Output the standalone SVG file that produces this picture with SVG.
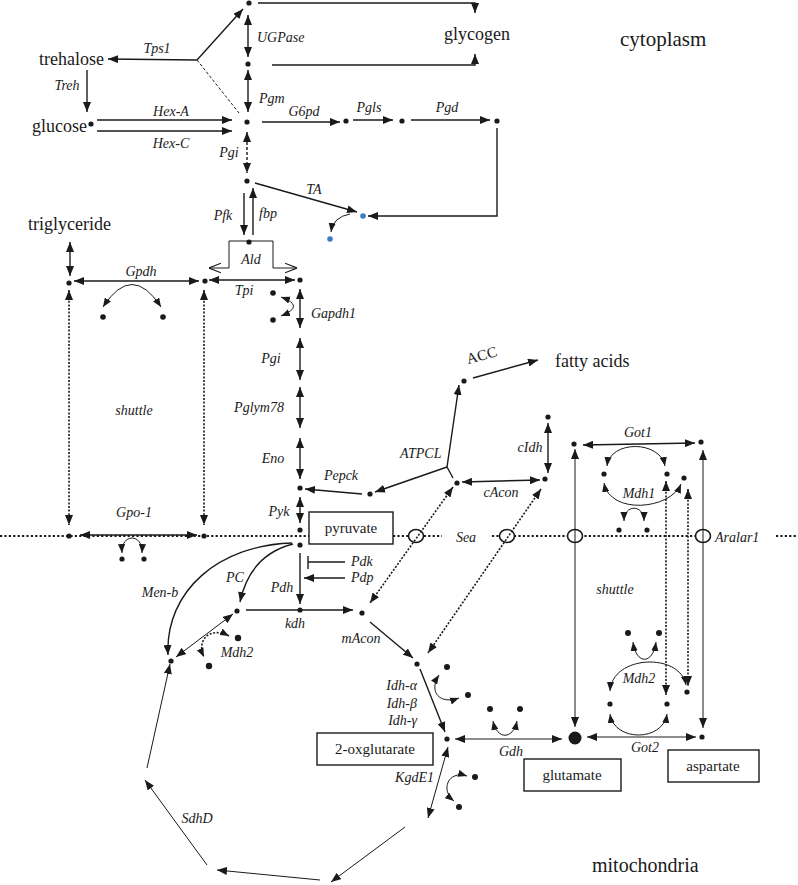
<svg xmlns="http://www.w3.org/2000/svg" width="798" height="885" viewBox="0 0 798 885" font-family="'Liberation Serif', 'DejaVu Serif', serif">
<style>
text{font-family:'Liberation Serif','DejaVu Serif',serif;fill:#1a1a1a}
.m{font-size:18px}
.big{font-size:20px}
.e{font-size:14px;font-style:italic}
.bx{font-size:15px;text-anchor:middle}
.c{text-anchor:middle}
.r{text-anchor:end}
.l{fill:none;stroke:#1a1a1a;stroke-width:1.4}
.t{fill:none;stroke:#1a1a1a;stroke-width:1}
.dsh{stroke-dasharray:3 2}
.dot{stroke-dasharray:2 1.6;stroke-width:1.6}
.mem{fill:none;stroke:#1a1a1a;stroke-width:2.2;stroke-dasharray:2.2 2.2}
.box{fill:#fff;stroke:#1a1a1a;stroke-width:1.4}
.ov{fill:#fff;stroke:#1a1a1a;stroke-width:1.6}
.d{fill:#1a1a1a}
.b{fill:#3f7cc4}
</style>
<defs>
<marker id="a" viewBox="0 0 10 8" refX="10" refY="4" markerWidth="10" markerHeight="8" markerUnits="userSpaceOnUse" orient="auto-start-reverse"><path d="M0,0 L10,4 L0,8 z" fill="#1a1a1a"/></marker>
<marker id="s" viewBox="0 0 10 8" refX="10" refY="4" markerWidth="9" markerHeight="7.5" markerUnits="userSpaceOnUse" orient="auto-start-reverse"><path d="M0,0 L10,4 L0,8 z" fill="#1a1a1a"/></marker>
<marker id="o" viewBox="0 0 10 10" refX="10" refY="5" markerWidth="12" markerHeight="12" markerUnits="userSpaceOnUse" orient="auto"><path d="M0,1 L10,5 L0,9" fill="none" stroke="#1a1a1a" stroke-width="1"/></marker>
</defs>
<rect width="798" height="885" fill="#fff"/>

<g id="membrane">
<path class="mem" d="M0 536 H309 M393 536 H442 M492 536 H712 M776 536 H798"/>
<ellipse class="ov" cx="416" cy="536" rx="7.5" ry="6.5"/>
<ellipse class="ov" cx="507" cy="536" rx="7.5" ry="6.5"/>
<ellipse class="ov" cx="575" cy="536" rx="7.5" ry="6.5"/>
<ellipse class="ov" cx="703" cy="536" rx="7.5" ry="6.5"/>
<text class="e c" x="466" y="542">Sea</text>
<text class="e" x="715" y="542">Aralar1</text>
</g>

<g id="connectors">
<path class="l" d="M258 3 H475 V13" marker-end="url(#a)"/>
<path class="l" d="M272 65 H475 V54" marker-end="url(#a)"/>
<line class="l" x1="248" y1="15" x2="248" y2="57" marker-start="url(#a)" marker-end="url(#a)"/>
<line class="l" x1="248" y1="70" x2="248" y2="112" marker-start="url(#a)" marker-end="url(#a)"/>
<line class="l" x1="197" y1="60" x2="243" y2="9" marker-end="url(#a)"/>
<line class="l" x1="197" y1="60" x2="108" y2="59" marker-end="url(#a)"/>
<line class="t dsh" x1="197" y1="60" x2="239" y2="113"/>
<line class="l" x1="87" y1="70" x2="87" y2="112" marker-end="url(#a)"/>
<line class="l" x1="97" y1="120" x2="232" y2="120" marker-end="url(#a)"/>
<line class="l" x1="97" y1="131" x2="232" y2="131" marker-end="url(#a)"/>
<line class="l" x1="262" y1="122" x2="340" y2="122" marker-end="url(#a)"/>
<line class="l" x1="353" y1="120" x2="393" y2="120" marker-end="url(#a)"/>
<line class="l" x1="411" y1="120" x2="490" y2="120" marker-end="url(#a)"/>
<path class="l" d="M497 128 V216 H368" marker-end="url(#a)"/>
<line class="l dsh" x1="247" y1="132" x2="247" y2="173" marker-start="url(#a)" marker-end="url(#a)"/>
<line class="l" x1="255" y1="183" x2="357" y2="212" marker-end="url(#a)"/>
<path class="t" d="M350 214 Q333 217 331 232" marker-end="url(#s)"/>
<line class="l" x1="244" y1="193" x2="244" y2="235" marker-end="url(#a)"/>
<line class="l" x1="253" y1="235" x2="253" y2="188" marker-end="url(#a)"/>
<path class="t" d="M229 268 V241 H273 V268"/>
<line class="t" x1="229" y1="268" x2="209" y2="268" marker-end="url(#o)"/>
<line class="t" x1="273" y1="268" x2="297" y2="268" marker-end="url(#o)"/>
<line class="l" x1="70" y1="242" x2="70" y2="276" marker-start="url(#a)" marker-end="url(#a)"/>
<line class="l" x1="74" y1="281" x2="199" y2="281" marker-start="url(#a)" marker-end="url(#a)"/>
<path class="t" d="M103 307 Q132 262 161 307" marker-start="url(#s)" marker-end="url(#s)"/>
<line class="l" x1="209" y1="280" x2="295" y2="280" marker-start="url(#a)" marker-end="url(#a)"/>
<path class="t" d="M281 297 Q306 306 281 316" marker-start="url(#s)" marker-end="url(#s)"/>
<line class="l" x1="300" y1="289" x2="300" y2="328" marker-start="url(#a)" marker-end="url(#a)"/>
<line class="l" x1="300" y1="338" x2="300" y2="380" marker-start="url(#a)" marker-end="url(#a)"/>
<line class="l" x1="300" y1="387" x2="300" y2="428" marker-start="url(#a)" marker-end="url(#a)"/>
<line class="l" x1="300" y1="438" x2="300" y2="479" marker-start="url(#a)" marker-end="url(#a)"/>
<line class="l" x1="300" y1="497" x2="300" y2="523" marker-start="url(#a)" marker-end="url(#a)"/>
<line class="l dot" x1="69" y1="290" x2="69" y2="525" marker-start="url(#a)" marker-end="url(#a)"/>
<line class="l dot" x1="204" y1="290" x2="204" y2="525" marker-start="url(#a)" marker-end="url(#a)"/>
<line class="l" x1="80" y1="535" x2="197" y2="535" marker-start="url(#a)" marker-end="url(#a)"/>
<path class="t" d="M122 553 C121 533 143 533 142 553" marker-start="url(#s)" marker-end="url(#s)"/>
<line class="l" x1="362" y1="494" x2="305" y2="489" marker-end="url(#a)"/>
<line class="l" x1="447" y1="467" x2="375" y2="492" marker-end="url(#a)"/>
<line class="l" x1="447" y1="467" x2="459" y2="385" marker-end="url(#a)"/>
<line class="l" x1="447" y1="467" x2="453" y2="478"/>
<line class="l" x1="473" y1="378" x2="538" y2="360" marker-end="url(#a)"/>
<line class="l" x1="462" y1="482" x2="540" y2="480" marker-start="url(#a)" marker-end="url(#a)"/>
<line class="l" x1="548" y1="423" x2="548" y2="473" marker-start="url(#a)" marker-end="url(#a)"/>
<line class="l dot" x1="453" y1="487" x2="370" y2="603" marker-start="url(#a)" marker-end="url(#a)"/>
<line class="l dot" x1="541" y1="489" x2="428" y2="653" marker-start="url(#a)" marker-end="url(#a)"/>
<line class="l" x1="583" y1="445" x2="695" y2="443" marker-start="url(#a)" marker-end="url(#a)"/>
<path class="t" d="M607 466 C610 440 660 440 665 466" marker-start="url(#s)" marker-end="url(#s)"/>
<path class="t" d="M604 483 C610 515 670 510 681 484" marker-start="url(#s)" marker-end="url(#s)"/>
<path class="t" d="M624 521 C624 504 644 504 644 521" marker-start="url(#s)" marker-end="url(#s)"/>
<line class="t" x1="575" y1="449" x2="575" y2="727" marker-start="url(#a)" marker-end="url(#a)"/>
<line class="t" x1="703" y1="450" x2="703" y2="728" marker-start="url(#a)" marker-end="url(#a)"/>
<line class="t dot" x1="666" y1="481" x2="666" y2="695" marker-start="url(#a)" marker-end="url(#a)"/>
<line class="t dot" x1="688" y1="489" x2="688" y2="686" marker-start="url(#a)" marker-end="url(#a)"/>
<path class="t" d="M633 642 C636 665 653 665 656 642" marker-start="url(#s)" marker-end="url(#s)"/>
<path class="t" d="M610 691 C612 655 680 652 686 685" marker-start="url(#s)" marker-end="url(#s)"/>
<path class="t" d="M610 714 C614 742 663 742 667 714" marker-start="url(#s)" marker-end="url(#s)"/>
<line class="t" x1="587" y1="737" x2="696" y2="737" marker-start="url(#a)" marker-end="url(#a)"/>
<line class="t" x1="455" y1="739" x2="562" y2="739" marker-start="url(#a)" marker-end="url(#a)"/>
<path class="t" d="M493 721 C497 740 513 740 517 721" marker-start="url(#s)" marker-end="url(#s)"/>
<line class="l" x1="300" y1="553" x2="300" y2="604" marker-end="url(#a)"/>
<line class="l" x1="345" y1="562" x2="308" y2="562"/>
<line class="l" x1="308" y1="556" x2="308" y2="569"/>
<line class="l" x1="345" y1="578" x2="304" y2="578" marker-end="url(#a)"/>
<line class="l" x1="246" y1="610" x2="353" y2="610" marker-end="url(#a)"/>
<path class="l" d="M293 544 Q250 555 240 602" marker-end="url(#a)"/>
<path class="l" d="M292 543 C220 545 165 590 168 655" marker-end="url(#a)"/>
<line class="t" x1="233" y1="614" x2="176" y2="657" marker-start="url(#a)" marker-end="url(#a)"/>
<path class="t dot" d="M229 636 C210 626 196 640 204 657" marker-start="url(#s)" marker-end="url(#s)"/>
<line class="l" x1="370" y1="622" x2="413" y2="658" marker-end="url(#a)"/>
<line class="l" x1="420" y1="669" x2="445" y2="732" marker-end="url(#a)"/>
<path class="t" d="M439 675 C428 692 440 705 459 698" marker-start="url(#s)" marker-end="url(#s)"/>
<line class="t" x1="448" y1="747" x2="428" y2="818" marker-start="url(#a)" marker-end="url(#a)"/>
<path class="t" d="M467 776 C448 770 440 790 454 801" marker-start="url(#s)" marker-end="url(#s)"/>
<line class="t" x1="405" y1="827" x2="331" y2="882" marker-end="url(#a)"/>
<line class="t" x1="320" y1="880" x2="217" y2="870" marker-end="url(#a)"/>
<line class="t" x1="207" y1="865" x2="145" y2="780" marker-end="url(#a)"/>
<line class="t" x1="147" y1="768" x2="170" y2="664" marker-end="url(#a)"/>
</g>

<g id="edge-labels">
<text class="e" x="257" y="42">UGPase</text>
<text class="e" x="259" y="103">Pgm</text>
<text class="e c" x="157" y="53">Tps1</text>
<text class="e c" x="67" y="90">Treh</text>
<text class="e c" x="171" y="116">Hex-A</text>
<text class="e c" x="171" y="148">Hex-C</text>
<text class="e c" x="304" y="116">G6pd</text>
<text class="e c" x="369" y="112">Pgls</text>
<text class="e c" x="447" y="112">Pgd</text>
<text class="e c" x="229" y="157">Pgi</text>
<text class="e c" x="314" y="194">TA</text>
<text class="e c" x="223" y="220">Pfk</text>
<text class="e" x="259" y="218">fbp</text>
<text class="e c" x="251" y="264">Ald</text>
<text class="e c" x="141" y="276">Gpdh</text>
<text class="e c" x="244" y="295">Tpi</text>
<text class="e" x="311" y="318">Gapdh1</text>
<text class="e c" x="271" y="363">Pgi</text>
<text class="e c" x="259" y="412">Pglym78</text>
<text class="e c" x="273" y="463">Eno</text>
<text class="e c" x="341" y="480">Pepck</text>
<text class="e c" x="279" y="516">Pyk</text>
<text class="e" x="400" y="458">ATPCL</text>
<text class="c" style="font-size:15px" transform="translate(483 360) rotate(-15)">ACC</text>
<text class="e c" x="501" y="497">cAcon</text>
<text class="e c" x="530" y="452">cIdh</text>
<text class="e c" x="638" y="437">Got1</text>
<text class="e c" x="639" y="498">Mdh1</text>
<text class="e c" x="134" y="415">shuttle</text>
<text class="e c" x="134" y="517">Gpo-1</text>
<text class="e c" x="615" y="594">shuttle</text>
<text class="e c" x="639" y="683">Mdh2</text>
<text class="e c" x="645" y="752">Got2</text>
<text class="e c" x="511" y="756">Gdh</text>
<text class="e" x="351" y="566">Pdk</text>
<text class="e" x="351" y="582">Pdp</text>
<text class="e c" x="282" y="592">Pdh</text>
<text class="e c" x="235" y="582">PC</text>
<text class="e c" x="160" y="597">Men-b</text>
<text class="e c" x="295" y="628">kdh</text>
<text class="e c" x="237" y="657">Mdh2</text>
<text class="e c" x="361" y="643">mAcon</text>
<text class="e r" x="417" y="690">Idh-α</text>
<text class="e r" x="417" y="708">Idh-β</text>
<text class="e r" x="417" y="725">Idh-γ</text>
<text class="e r" x="434" y="782">KgdE1</text>
<text class="e c" x="197" y="823">SdhD</text>
</g>

<g id="n-glycogen"><text class="m c" x="477" y="40">glycogen</text></g>
<g id="n-cytoplasm"><text class="big" style="font-size:21px" x="620" y="46">cytoplasm</text></g>
<g id="n-mitochondria"><text class="big" x="592" y="872">mitochondria</text></g>
<g id="n-trehalose"><text class="m" x="39" y="65">trehalose</text></g>
<g id="n-glucose"><text class="m" x="32" y="132">glucose</text><circle class="d" cx="91" cy="124" r="2.6"/></g>
<g id="n-triglyceride"><text class="m" x="28" y="230">triglyceride</text></g>
<g id="n-fatty-acids"><text class="m" x="555" y="367">fatty acids</text></g>
<g id="n-pyruvate"><rect class="box" x="309" y="512" width="84" height="32"/><text class="bx" x="351" y="533">pyruvate</text></g>
<g id="n-2-oxglutarate"><rect class="box" x="317" y="733" width="116" height="32"/><text class="bx" x="375" y="754">2-oxglutarate</text></g>
<g id="n-glutamate"><rect class="box" x="524" y="759" width="97" height="32"/><text class="bx" x="572" y="780">glutamate</text><circle class="d" cx="575" cy="738" r="6.5"/></g>
<g id="n-aspartate"><rect class="box" x="668" y="750" width="91" height="32"/><text class="bx" x="713" y="771">aspartate</text><circle class="d" cx="702" cy="737" r="2.6"/></g>

<g id="n-dots">
<circle class="d" cx="249" cy="3" r="2.6"/>
<circle class="d" cx="248" cy="64" r="2.6"/>
<circle class="d" cx="247" cy="122" r="2.6"/>
<circle class="d" cx="346" cy="121" r="2.6"/>
<circle class="d" cx="402" cy="121" r="2.6"/>
<circle class="d" cx="497" cy="121" r="2.6"/>
<circle class="d" cx="247" cy="181" r="2.6"/>
<circle class="b" cx="363" cy="216" r="2.8"/>
<circle class="b" cx="330" cy="239" r="2.8"/>
<circle class="d" cx="249" cy="242" r="2.6"/>
<circle class="d" cx="69" cy="283" r="2.6"/>
<circle class="d" cx="205" cy="281" r="2.6"/>
<circle class="d" cx="103" cy="317" r="2.8"/>
<circle class="d" cx="163" cy="317" r="2.8"/>
<circle class="d" cx="300" cy="280" r="2.6"/>
<circle class="d" cx="273" cy="293" r="2.8"/>
<circle class="d" cx="273" cy="320" r="2.8"/>
<circle class="d" cx="300" cy="488" r="2.6"/>
<circle class="d" cx="370" cy="494" r="2.6"/>
<circle class="d" cx="464" cy="381" r="2.6"/>
<circle class="d" cx="457" cy="483" r="2.6"/>
<circle class="d" cx="545" cy="479" r="2.6"/>
<circle class="d" cx="548" cy="417" r="2.6"/>
<circle class="d" cx="574" cy="444" r="2.6"/>
<circle class="d" cx="701" cy="442" r="2.6"/>
<circle class="d" cx="604" cy="474" r="2.6"/>
<circle class="d" cx="667" cy="474" r="2.6"/>
<circle class="d" cx="684" cy="478" r="2.6"/>
<circle class="d" cx="619" cy="530" r="2.6"/>
<circle class="d" cx="647" cy="530" r="2.6"/>
<circle class="d" cx="300" cy="530" r="2.6"/>
<circle class="d" cx="69" cy="536" r="2.6"/>
<circle class="d" cx="204" cy="536" r="2.6"/>
<circle class="d" cx="122" cy="559" r="2.6"/>
<circle class="d" cx="144" cy="559" r="2.6"/>
<circle class="d" cx="300" cy="545" r="2.6"/>
<circle class="d" cx="300" cy="610" r="2.6"/>
<circle class="d" cx="237" cy="611" r="2.6"/>
<circle class="d" cx="362" cy="613" r="2.6"/>
<circle class="d" cx="171" cy="661" r="2.6"/>
<circle class="d" cx="238" cy="638" r="3.2"/>
<circle class="d" cx="209" cy="666" r="3.2"/>
<circle class="d" cx="417" cy="664" r="2.6"/>
<circle class="d" cx="447" cy="667" r="3"/>
<circle class="d" cx="468" cy="695" r="3"/>
<circle class="d" cx="447" cy="739" r="2.6"/>
<circle class="d" cx="490" cy="709" r="3"/>
<circle class="d" cx="520" cy="709" r="3"/>
<circle class="d" cx="628" cy="633" r="3"/>
<circle class="d" cx="659" cy="633" r="3"/>
<circle class="d" cx="610" cy="704" r="2.6"/>
<circle class="d" cx="667" cy="704" r="2.6"/>
<circle class="d" cx="687" cy="692" r="2.6"/>
<circle class="d" cx="475" cy="777" r="3"/>
<circle class="d" cx="459" cy="807" r="3"/>
</g>
</svg>
